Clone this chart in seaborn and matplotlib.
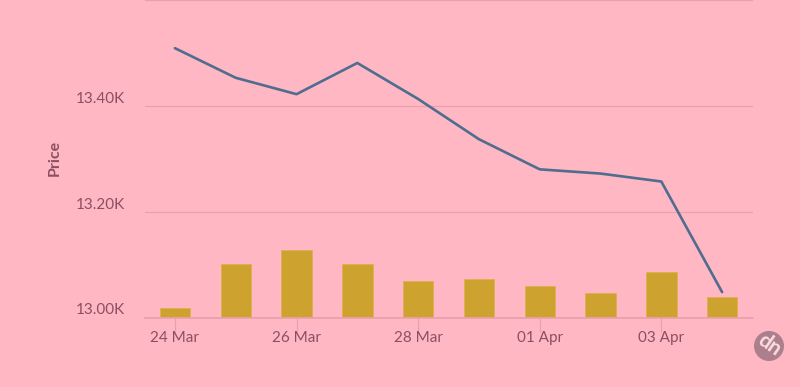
import matplotlib
matplotlib.use('Agg')
import matplotlib.pyplot as plt
from matplotlib.patches import Circle
from matplotlib.transforms import ScaledTranslation
import pandas as pd
import seaborn as sns

dates = ['24 Mar', '25 Mar', '26 Mar', '27 Mar', '28 Mar',
         '31 Mar', '01 Apr', '02 Apr', '03 Apr', '04 Apr']
price = [13509, 13453, 13422, 13481, 13413, 13337, 13280, 13272, 13257, 13048]
volume = [3.0, 16.9, 21.3, 16.9, 11.5, 12.1, 9.9, 7.7, 14.3, 6.5]
price_ticks = [13000, 13200, 13400, 13600]
price_labels = ['13.00K', '13.20K', '13.40K', '']

BG = '#FFB7C3'
TEXT = '#8C4F62'
GRID = '#E8A0AD'

df = pd.DataFrame({'date': dates, 'price': price, 'volume': volume})

sns.set_theme(style='white', rc={'figure.facecolor': BG, 'axes.facecolor': BG})
plt.rcParams['font.family'] = ['Lato', 'DejaVu Sans']

fig = plt.figure(figsize=(8, 3.87), dpi=100)
ax = fig.add_axes([144.5 / 800, (387 - 317.5) / 387, 608 / 800, 317.5 / 387])
ax_vol = ax.twinx()

# volume bars sit on their own hidden axis
sns.barplot(data=df, x='date', y='volume', ax=ax_vol, color='#CDA22F', width=0.5,
            saturation=1, edgecolor='#DDB04E', linewidth=0.6)
ax_vol.set_ylim(0, 100)
ax_vol.axis('off')

sns.lineplot(data=df, x='date', y='price', ax=ax, color='#4F6D8F', linewidth=1.9, sort=False)
ax.set_zorder(ax_vol.get_zorder() + 1)
ax.patch.set_visible(False)

ax.set_xlim(-0.5, 9.5)
ax.set_ylim(13000, 13600)
ax.set_yticks(price_ticks)
ax.set_yticklabels(price_labels, color=TEXT, fontsize=11)
# labels sit just above their gridline level, nudged up a pixel
nudge = ScaledTranslation(0, 1 / 100, fig.dpi_scale_trans)
for lab in ax.get_yticklabels():
    lab.set_verticalalignment('bottom')
    lab.set_transform(lab.get_transform() + nudge)
ax.set_xticks(range(0, 10, 2))
ax.set_xticklabels(dates[::2], color=TEXT, fontsize=11)
ax.tick_params(axis='y', length=0, pad=14)
ax.tick_params(axis='x', length=10, width=0.8, color=GRID, pad=0, bottom=True)
ax.grid(axis='y', color=GRID, linewidth=0.9)
ax.set_axisbelow(True)
ax.set_xlabel('')
ax.set_ylabel('')
sns.despine(ax=ax, left=True, right=True, top=True, bottom=False)
ax.spines['bottom'].set_color(GRID)

fig.text(55 / 800, 1 - 158 / 387, 'Price', rotation=90, ha='center', va='center',
         color=TEXT, fontsize=11.5, fontweight='bold')

# dn badge, bottom right
fig.add_artist(Circle((769 / 800 * 8, (387 - 346) / 387 * 3.87), 0.15,
                      transform=fig.dpi_scale_trans, facecolor='#AB7F8B', edgecolor='none'))
fig.text(769 / 800, 1 - 345 / 387, 'dn', rotation=-35, ha='center', va='center',
         color='#FBDDE2', fontsize=15, fontweight='bold')

fig.savefig('out.png', dpi=100, facecolor=BG)
